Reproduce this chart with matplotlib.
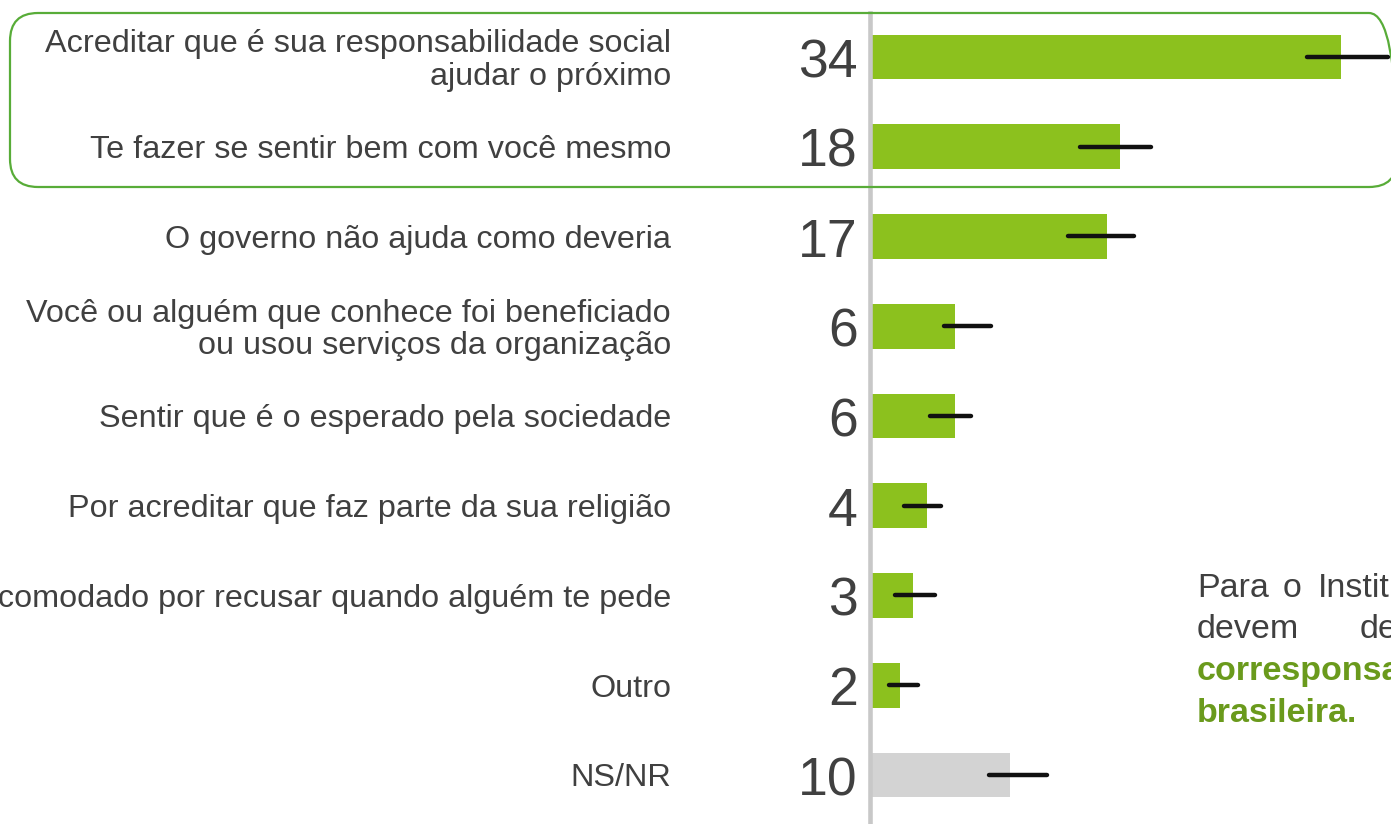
import matplotlib
matplotlib.use("Agg")
import matplotlib.pyplot as plt
from matplotlib.patches import FancyBboxPatch
from matplotlib.lines import Line2D
from matplotlib.transforms import blended_transform_factory

plt.rcParams['font.family'] = ['Liberation Sans', 'DejaVu Sans']

# ---------------- data ----------------
categories = [
    "Acreditar que é sua responsabilidade social\najudar o próximo",
    "Te fazer se sentir bem com você mesmo",
    "O governo não ajuda como deveria",
    "Você ou alguém que conhece foi beneficiado\nou usou serviços da organização",
    "Sentir que é o esperado pela sociedade",
    "Por acreditar que faz parte da sua religião",
    "Se sentir incomodado por recusar quando alguém te pede",
    "Outro",
    "NS/NR",
]
values = [34, 18, 17, 6, 6, 4, 3, 2, 10]
err_low = [31.5, 15.1, 14.2, 5.2, 4.2, 2.3, 1.7, 1.2, 8.5]
err_high = [37.4, 20.2, 19.0, 8.6, 7.2, 5.0, 4.6, 3.3, 12.7]
is_nsnr = [False] * 8 + [True]

side_line1 = ["Para", "o", "Instituto"]
side_line2 = ["devem", "desenvolver"]
side_line3 = "corresponsabilidade"
side_line4 = "brasileira."

# ---------------- style ----------------
W, H = 1391, 824
GREEN = "#8CC11E"
GRAY_BAR = "#D3D3D3"
TEXT = "#404040"
BOX = "#58AC38"
GREEN_TXT = "#6A9A1C"

fig = plt.figure(figsize=(W / 100, H / 100), dpi=100)
fig.patch.set_facecolor("white")

px_per_unit = 13.8
ax_left = 872
ax = fig.add_axes([ax_left / W, 0, (W - ax_left) / W, 1])
ax.set_xlim(0, (W - ax_left) / px_per_unit)
row = 89.75
ax.set_ylim(8 + (H - 775) / row, -57 / row)
ax.axis("off")

ypos = list(range(len(values)))
colors = [GRAY_BAR if n else GREEN for n in is_nsnr]
ax.barh(ypos, values, height=0.5, color=colors, zorder=2)
lc = ax.hlines(ypos, err_low, err_high, colors="#111111", linewidth=3.2, zorder=3)
lc.set_capstyle("round")

# vertical axis line
fig.add_artist(Line2D([869.5 / W] * 2, [0, 1 - 13 / H], transform=fig.transFigure,
                      color="#C8C8C8", linewidth=3.3, zorder=1))

# labels and numbers
tr = blended_transform_factory(fig.transFigure, ax.transData)
for y, lab, v in zip(ypos, categories, values):
    ax.annotate(lab, xy=(671 / W, y), xycoords=tr, xytext=(0, -2.5),
                textcoords="offset points", ha="right", va="center",
                fontsize=23.3, color=TEXT, linespacing=1.1, annotation_clip=False)
    ax.annotate(str(v), xy=(858 / W, y), xycoords=tr, xytext=(0, -14.5),
                textcoords="offset points", ha="right", va="baseline",
                fontsize=38.5, color=TEXT, annotation_clip=False)

# rounded highlight box
fig.add_artist(FancyBboxPatch((0.10, (H - 187) / 100), 13.87, 1.74,
                              boxstyle="round,pad=0,rounding_size=0.28",
                              transform=fig.dpi_scale_trans, fill=False,
                              edgecolor=BOX, linewidth=1.6, zorder=5))

# side text (cut by the slide edge)
def ftext(xpx, ypx, s, **kw):
    fig.text(xpx / W, 1 - ypx / H, s, va="baseline", ha="left", fontsize=24.5, **kw)

for xpx, w in zip([1197, 1283, 1318], side_line1):
    ftext(xpx, 597, w, color=TEXT)
for xpx, w in zip([1197, 1360], side_line2):
    ftext(xpx, 638, w, color=TEXT)
ftext(1197, 680, side_line3, color=GREEN_TXT, fontweight="bold")
ftext(1197, 722, side_line4, color=GREEN_TXT, fontweight="bold")

fig.savefig("out.png", dpi=100, facecolor="white")
